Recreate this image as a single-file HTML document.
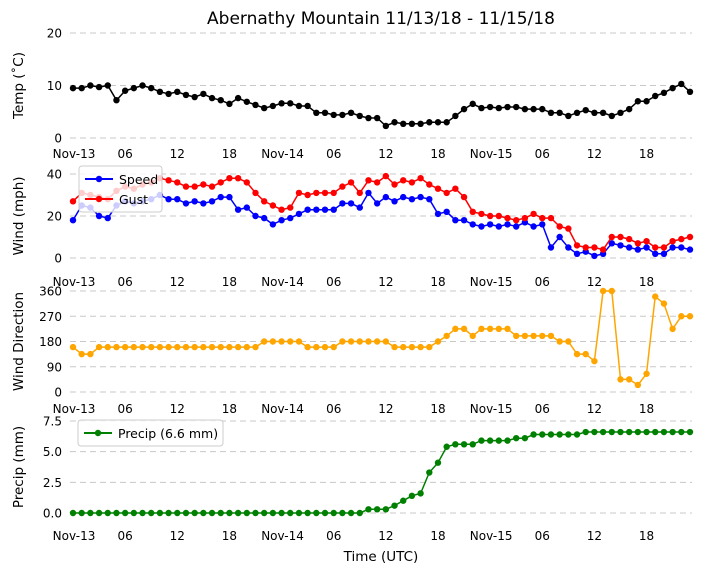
<!DOCTYPE html>
<html><head><meta charset="utf-8"><style>
body{margin:0;background:#fff}
svg{display:block;font-family:"DejaVu Sans","Liberation Sans",sans-serif}
</style></head><body>
<svg id="c" width="704" height="573" viewBox="0 0 704 573"></svg>
<script>
const xTicks=["Nov-13","06","12","18","Nov-14","06","12","18","Nov-15","06","12","18"];
const temp=[9.5,9.5,10,9.7,10,7.2,9,9.5,10,9.5,8.8,8.4,8.8,8.2,7.8,8.4,7.6,7.2,6.5,7.6,6.9,6.3,5.7,6.1,6.6,6.6,6.1,6.1,4.8,4.8,4.4,4.4,4.8,4.2,3.8,3.8,2.3,3,2.7,2.7,2.7,3,3,3,4.2,5.5,6.5,5.7,5.9,5.7,5.9,5.9,5.5,5.5,5.5,4.8,4.8,4.2,4.8,5.3,4.8,4.8,4.2,4.8,5.5,7,7,8,8.6,9.5,10.3,8.8];
const speed=[18,25,24,20,19,25,27,26,27,28,30,28,28,26,27,26,27,29,29,23,24,20,19,16,18,19,21,23,23,23,23,26,26,24,31,26,29,27,29,28,29,28,21,22,18,18,16,15,16,15,16,15,17,15,16,5,10,5,2,3,1,2,7,6,5,4,5,2,2,5,5,4];
const gust=[27,31,30,29,28,32,34,33,35,36,38,37,36,34,34,35,34,36,38,38,36,31,27,25,23,24,31,30,31,31,31,34,36,31,37,36,39,35,37,36,38,35,33,31,33,29,22,21,20,20,19,18,19,21,19,19,15,14,6,5,5,4,10,10,9,7,8,5,5,8,9,10];
const dir=[160,135,135,160,160,160,160,160,160,160,160,160,160,160,160,160,160,160,160,160,160,160,180,180,180,180,180,160,160,160,160,180,180,180,180,180,180,160,160,160,160,160,180,200,225,225,200,225,225,225,225,200,200,200,200,200,180,180,135,135,110,360,360,45,45,25,65,340,315,225,270,270];
const precip=[0,0,0,0,0,0,0,0,0,0,0,0,0,0,0,0,0,0,0,0,0,0,0,0,0,0,0,0,0,0,0,0,0,0,0.3,0.3,0.3,0.6,1.0,1.4,1.6,3.3,4.1,5.4,5.6,5.6,5.6,5.9,5.9,5.9,5.9,6.1,6.1,6.4,6.4,6.4,6.4,6.4,6.4,6.6,6.6,6.6,6.6,6.6,6.6,6.6,6.6,6.6,6.6,6.6,6.6,6.6];
const svg=document.getElementById('c');const NS='http://www.w3.org/2000/svg';
function mk(t,a,txt){const e=document.createElementNS(NS,t);for(const k in a)e.setAttribute(k,a[k]);if(txt!==undefined)e.textContent=txt;svg.appendChild(e);return e;}
const X0=73,X1=690;const xs=h=>X0+h*(X1-X0)/71;
function panel(name,min,max,yTop,yBot,ticks,tickLbl,labelY,ylab){
 const ys=v=>yBot-(v-min)/(max-min)*(yBot-yTop);
 ticks.forEach((t,i)=>{const g=mk('line',{x1:70,x2:692,y1:ys(t),y2:ys(t),stroke:'#c8c8c8','stroke-dasharray':'6,4','stroke-width':1});
 
 const l=mk('text',{x:62,y:ys(t)+4.5,'text-anchor':'end','font-size':12,fill:'#000'},tickLbl[i]);
 });
 xTicks.forEach((t,i)=>{const l=mk('text',{x:xs(i*6)+(i%4==0?1:0),y:labelY,'text-anchor':'middle','font-size':12},t);
 });
 const yl=mk('text',{x:0,y:0,'text-anchor':'middle','font-size':13.5,transform:`translate(23,${(yTop+yBot)/2}) rotate(-90)`},ylab);
 
 return ys;}
function series(arr,ys,color,name){
 const pts=arr.map((v,i)=>xs(i).toFixed(1)+','+ys(v).toFixed(1)).join(' ');
 const p=mk('polyline',{points:pts,fill:'none',stroke:color,'stroke-width':1.5});
 
 arr.forEach((v,i)=>{const c=mk('circle',{cx:xs(i),cy:ys(v),r:3.2,fill:color});
 });}
const t=mk('text',{x:381,y:24,'text-anchor':'middle','font-size':17},'Abernathy Mountain 11/13/18 - 11/15/18');

let ys=panel('temp',0,20,33,138,[0,10,20],['0','10','20'],158,'Temp (˚C)');
series(temp,ys,'#000','temp');
ys=panel('wind',0,40,174,258,[0,20,40],['0','20','40'],286,'Wind (mph)');
series(speed,ys,'#0000ff','speed');series(gust,ys,'#ff0000','gust');
ys=panel('dir',0,360,291,392,[0,90,180,270,360],['0','90','180','270','360'],413,'Wind Direction');
series(dir,ys,'#ffa500','direction');
ys=panel('precip',0,7.5,421,513,[0,2.5,5,7.5],['0.0','2.5','5.0','7.5'],540,'Precip (mm)');
series(precip,ys,'#008000','precip');
const xt=mk('text',{x:381,y:561,'text-anchor':'middle','font-size':13.5},'Time (UTC)');

function legend(x,y,w,items){const r=mk('rect',{x:x,y:y,width:w,height:items.length*20+6,fill:'#fff','fill-opacity':0.8,stroke:'#ccc',rx:3});
 
 items.forEach((it,i)=>{const yy=y+13+i*20;
 const l=mk('line',{x1:x+6,x2:x+34,y1:yy,y2:yy,stroke:it[1],'stroke-width':2});
 const c=mk('circle',{cx:x+20,cy:yy,r:3.2,fill:it[1]});
 const tx=mk('text',{x:x+40,y:yy+5,'font-size':12.5},it[0]);});}
legend(79,166,83,[['Speed','#0000ff'],['Gust','#ff0000']]);
legend(78,420,145,[['Precip (6.6 mm)','#008000']]);
</script>
</body></html>
